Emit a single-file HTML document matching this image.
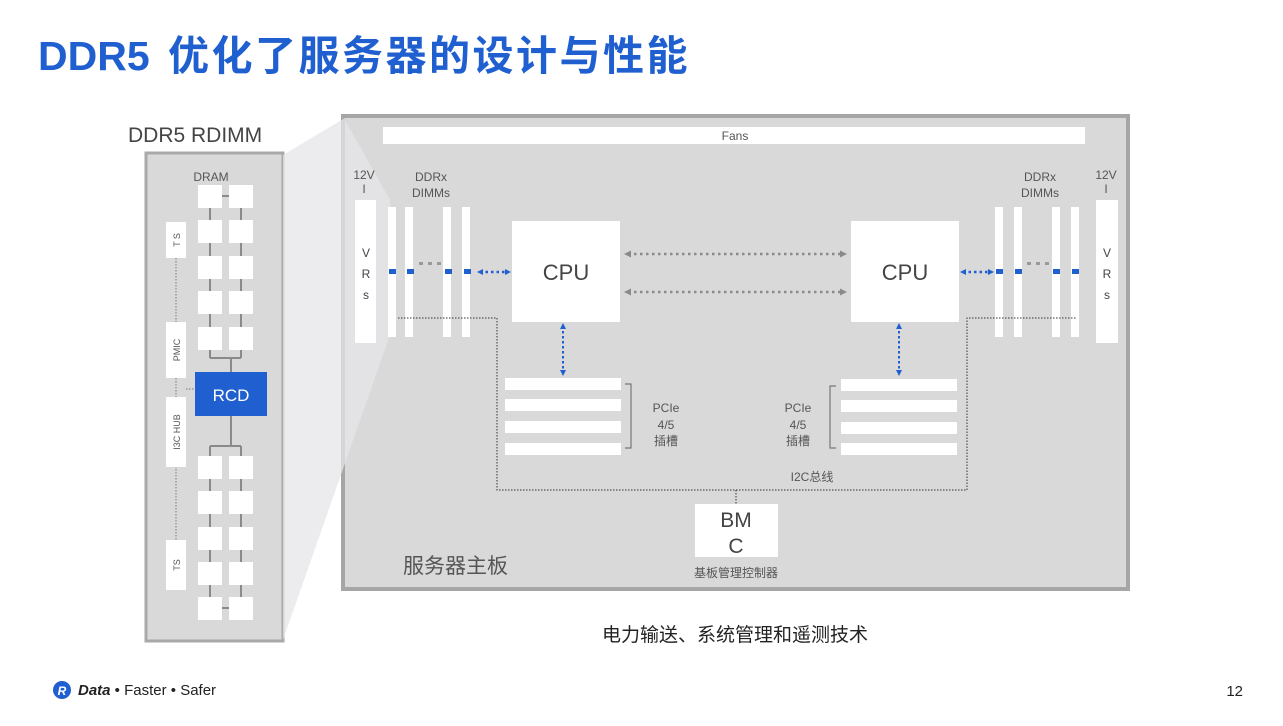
<!DOCTYPE html>
<html><head><meta charset="utf-8">
<style>
html,body{margin:0;padding:0;background:#fff;}
body{width:1283px;height:721px;overflow:hidden;position:relative;font-family:"Liberation Sans","Noto Sans CJK SC",sans-serif;}
svg text{font-family:"Liberation Sans","Noto Sans CJK SC",sans-serif;}
</style></head><body>
<svg width="1283" height="721" viewBox="0 0 1283 721" xmlns="http://www.w3.org/2000/svg">
<defs>
<marker id="ab" markerWidth="6" markerHeight="6" refX="3" refY="3" orient="auto-start-reverse" markerUnits="userSpaceOnUse"><path d="M0,0 L6,3 L0,6z" fill="#1f5fcf"/></marker>
<marker id="ag" markerWidth="7" markerHeight="7" refX="3" refY="3.5" orient="auto-start-reverse" markerUnits="userSpaceOnUse"><path d="M0,0 L7,3.5 L0,7z" fill="#8a8a8a"/></marker>
</defs>
<!-- Title -->
<text x="38" y="70" font-size="41" font-weight="bold" fill="#1f5fcf"><tspan>DDR5</tspan><tspan x="168" letter-spacing="2.5">优化了服务器的设计与性能</tspan></text>
<text x="128" y="142" font-size="21" fill="#444">DDR5 RDIMM</text>

<!-- Left panel -->
<rect x="146" y="153" width="137" height="488" fill="#d9d9d9" stroke="#a9a9a9" stroke-width="3"/>
<text x="211" y="181" font-size="12" fill="#555" text-anchor="middle">DRAM</text>
<g stroke="#8a8a8a" stroke-width="2" fill="none">
<line x1="210" y1="196" x2="210" y2="358"/><line x1="241" y1="196" x2="241" y2="358"/>
<line x1="210" y1="358" x2="241" y2="358"/><line x1="231" y1="358" x2="231" y2="372"/>
<line x1="222" y1="196" x2="229" y2="196"/>
<line x1="231" y1="416" x2="231" y2="446"/><line x1="210" y1="446" x2="241" y2="446"/>
<line x1="210" y1="446" x2="210" y2="608"/><line x1="241" y1="446" x2="241" y2="608"/>
<line x1="222" y1="608" x2="229" y2="608"/>
</g>
<g stroke="#8a8a8a" stroke-width="1.2" stroke-dasharray="1.5 1.5" fill="none">
<line x1="176" y1="258" x2="176" y2="322"/>
<line x1="176" y1="378" x2="176" y2="397"/>
<line x1="186" y1="389" x2="195" y2="389"/>
<line x1="176" y1="466" x2="176" y2="540"/>
</g>
<g fill="#fff">
<rect x="198" y="185" width="24" height="23"/><rect x="229" y="185" width="24" height="23"/>
<rect x="198" y="220" width="24" height="23"/><rect x="229" y="220" width="24" height="23"/>
<rect x="198" y="256" width="24" height="23"/><rect x="229" y="256" width="24" height="23"/>
<rect x="198" y="291" width="24" height="23"/><rect x="229" y="291" width="24" height="23"/>
<rect x="198" y="327" width="24" height="23"/><rect x="229" y="327" width="24" height="23"/>
<rect x="198" y="456" width="24" height="23"/><rect x="229" y="456" width="24" height="23"/>
<rect x="198" y="491" width="24" height="23"/><rect x="229" y="491" width="24" height="23"/>
<rect x="198" y="527" width="24" height="23"/><rect x="229" y="527" width="24" height="23"/>
<rect x="198" y="562" width="24" height="23"/><rect x="229" y="562" width="24" height="23"/>
<rect x="198" y="597" width="24" height="23"/><rect x="229" y="597" width="24" height="23"/>
<rect x="166" y="222" width="20" height="36"/>
<rect x="166" y="322" width="20" height="56"/>
<rect x="166" y="397" width="20" height="70"/>
<rect x="166" y="540" width="20" height="50"/>
</g>
<rect x="195" y="372" width="72" height="44" fill="#1f5fcf"/>
<text x="231" y="401" font-size="17" fill="#fff" text-anchor="middle">RCD</text>
<g font-size="9" fill="#555" text-anchor="middle">
<text transform="translate(180,240) rotate(-90)">T S</text>
<text transform="translate(180,350) rotate(-90)">PMIC</text>
<text transform="translate(180,432) rotate(-90)">I3C HUB</text>
<text transform="translate(180,565) rotate(-90)">TS</text>
</g>

<!-- Main board -->
<rect x="343" y="116" width="785" height="473" fill="#d9d9d9" stroke="#a6a6a6" stroke-width="4"/>
<polygon points="283,155 345,118 345,120 390,200 390,335 283,640" fill="#e6e6ea" opacity="0.75"/>
<rect x="383" y="127" width="702" height="17" fill="#fff"/>
<text x="735" y="140" font-size="12" fill="#555" text-anchor="middle">Fans</text>

<text x="364" y="179" font-size="12" fill="#555" text-anchor="middle">12V</text>
<text x="364" y="193" font-size="12" fill="#555" text-anchor="middle">I</text>
<rect x="355" y="200" width="21" height="143" fill="#fff"/>
<g font-size="12" fill="#444" text-anchor="middle"><text x="366" y="257">V</text><text x="366" y="278">R</text><text x="366" y="299">s</text></g>
<text x="431" y="181" font-size="12" fill="#555" text-anchor="middle">DDRx</text>
<text x="431" y="197" font-size="12" fill="#555" text-anchor="middle">DIMMs</text>
<g fill="#fff"><rect x="388" y="207" width="8" height="130"/><rect x="405" y="207" width="8" height="130"/><rect x="443" y="207" width="8" height="130"/><rect x="462" y="207" width="8" height="130"/></g>
<g fill="#1f5fcf"><rect x="389" y="269" width="7" height="5"/><rect x="407" y="269" width="7" height="5"/><rect x="445" y="269" width="7" height="5"/><rect x="464" y="269" width="7" height="5"/></g>
<g fill="#999"><rect x="419" y="262" width="4" height="3"/><rect x="428" y="262" width="4" height="3"/><rect x="437" y="262" width="4" height="3"/></g>
<line x1="480" y1="272" x2="508" y2="272" stroke="#1f5fcf" stroke-width="2.5" stroke-dasharray="2.5 3" marker-start="url(#ab)" marker-end="url(#ab)"/>

<text x="1106" y="179" font-size="12" fill="#555" text-anchor="middle">12V</text>
<text x="1106" y="193" font-size="12" fill="#555" text-anchor="middle">I</text>
<rect x="1096" y="200" width="22" height="143" fill="#fff"/>
<g font-size="12" fill="#444" text-anchor="middle"><text x="1107" y="257">V</text><text x="1107" y="278">R</text><text x="1107" y="299">s</text></g>
<text x="1040" y="181" font-size="12" fill="#555" text-anchor="middle">DDRx</text>
<text x="1040" y="197" font-size="12" fill="#555" text-anchor="middle">DIMMs</text>
<g fill="#fff"><rect x="995" y="207" width="8" height="130"/><rect x="1014" y="207" width="8" height="130"/><rect x="1052" y="207" width="8" height="130"/><rect x="1071" y="207" width="8" height="130"/></g>
<g fill="#1f5fcf"><rect x="996" y="269" width="7" height="5"/><rect x="1015" y="269" width="7" height="5"/><rect x="1053" y="269" width="7" height="5"/><rect x="1072" y="269" width="7" height="5"/></g>
<g fill="#999"><rect x="1027" y="262" width="4" height="3"/><rect x="1036" y="262" width="4" height="3"/><rect x="1045" y="262" width="4" height="3"/></g>
<line x1="963" y1="272" x2="991" y2="272" stroke="#1f5fcf" stroke-width="2.5" stroke-dasharray="2.5 3" marker-start="url(#ab)" marker-end="url(#ab)"/>

<rect x="512" y="221" width="108" height="101" fill="#fff"/>
<text x="566" y="280" font-size="22" fill="#444" text-anchor="middle">CPU</text>
<rect x="851" y="221" width="108" height="101" fill="#fff"/>
<text x="905" y="280" font-size="22" fill="#444" text-anchor="middle">CPU</text>
<line x1="628" y1="254" x2="843" y2="254" stroke="#8a8a8a" stroke-width="2.5" stroke-dasharray="2.5 3.5" marker-start="url(#ag)" marker-end="url(#ag)"/>
<line x1="628" y1="292" x2="843" y2="292" stroke="#8a8a8a" stroke-width="2.5" stroke-dasharray="2.5 3.5" marker-start="url(#ag)" marker-end="url(#ag)"/>
<line x1="563" y1="326" x2="563" y2="373" stroke="#1f5fcf" stroke-width="2" stroke-dasharray="2.5 2.5" marker-start="url(#ab)" marker-end="url(#ab)"/>
<line x1="899" y1="326" x2="899" y2="373" stroke="#1f5fcf" stroke-width="2" stroke-dasharray="2.5 2.5" marker-start="url(#ab)" marker-end="url(#ab)"/>

<path d="M398,318 H497 V490 H967 V318 H1076" fill="none" stroke="#333" stroke-width="1" stroke-dasharray="1.5 1.5"/>
<line x1="736" y1="490" x2="736" y2="504" stroke="#333" stroke-width="1" stroke-dasharray="1.5 1.5"/>

<g fill="#fff">
<rect x="505" y="378" width="116" height="12"/><rect x="505" y="399" width="116" height="12"/><rect x="505" y="421" width="116" height="12"/><rect x="505" y="443" width="116" height="12"/>
<rect x="841" y="379" width="116" height="12"/><rect x="841" y="400" width="116" height="12"/><rect x="841" y="422" width="116" height="12"/><rect x="841" y="443" width="116" height="12"/>
</g>
<path d="M625,384 H631 V448 H625" fill="none" stroke="#777" stroke-width="1.2"/>
<path d="M836,386 H830 V448 H836" fill="none" stroke="#777" stroke-width="1.2"/>
<g font-size="12" fill="#555" text-anchor="middle">
<text x="666" y="412">PCIe</text><text x="666" y="429">4/5</text><text x="666" y="445">插槽</text>
<text x="798" y="412">PCIe</text><text x="798" y="429">4/5</text><text x="798" y="445">插槽</text>
<text x="812" y="481">I2C总线</text>
</g>
<rect x="695" y="504" width="83" height="53" fill="#fff"/>
<text x="736" y="527" font-size="21" fill="#444" text-anchor="middle">BM</text>
<text x="736" y="553" font-size="21" fill="#444" text-anchor="middle">C</text>
<text x="736" y="577" font-size="12" fill="#555" text-anchor="middle">基板管理控制器</text>
<text x="403" y="573" font-size="21" fill="#555">服务器主板</text>

<text x="735" y="641" font-size="19" fill="#222" text-anchor="middle">电力输送、系统管理和遥测技术</text>

<circle cx="62" cy="690" r="9" fill="#1f5fcf"/>
<text x="62" y="695" font-size="12" font-weight="bold" font-style="italic" fill="#fff" text-anchor="middle">R</text>
<text x="78" y="695" font-size="15" fill="#222"><tspan font-weight="bold" font-style="italic">Data</tspan> • Faster • Safer</text>
<text x="1243" y="696" font-size="15" fill="#222" text-anchor="end">12</text>
</svg>
</body></html>
